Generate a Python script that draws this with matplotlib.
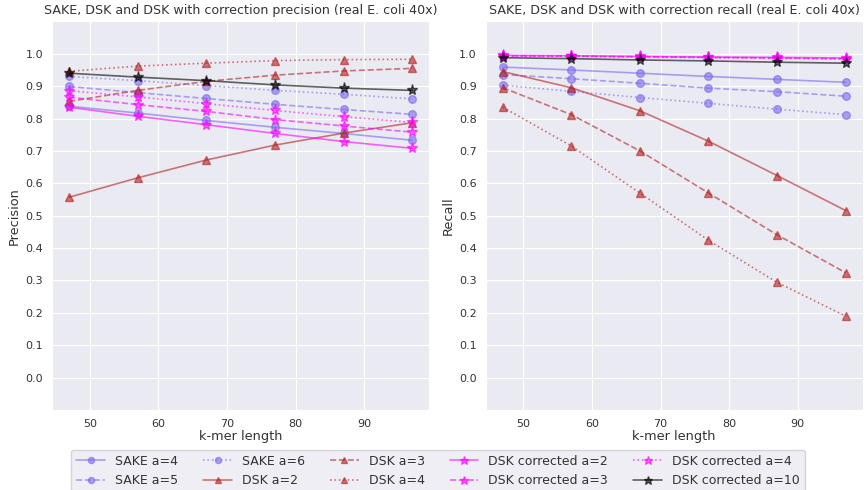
import matplotlib
matplotlib.use("Agg")
import matplotlib.pyplot as plt
import seaborn as sns

kmer = [47, 57, 67, 77, 87, 97]

# precision
sake_prec = {
    4: [0.838, 0.817, 0.794, 0.773, 0.754, 0.733],
    5: [0.899, 0.880, 0.862, 0.844, 0.828, 0.813],
    6: [0.930, 0.917, 0.902, 0.887, 0.875, 0.861],
}
dsk_prec = {
    2: [0.557, 0.617, 0.672, 0.718, 0.755, 0.787],
    3: [0.853, 0.887, 0.915, 0.934, 0.947, 0.955],
    4: [0.946, 0.962, 0.971, 0.979, 0.982, 0.983],
}
dskc_prec = {
    2: [0.835, 0.807, 0.781, 0.754, 0.729, 0.708],
    3: [0.866, 0.843, 0.822, 0.797, 0.777, 0.758],
    4: [0.886, 0.867, 0.846, 0.825, 0.806, 0.788],
    10: [0.940, 0.928, 0.917, 0.904, 0.894, 0.887],
}

# recall
sake_rec = {
    4: [0.959, 0.950, 0.940, 0.930, 0.921, 0.912],
    5: [0.936, 0.923, 0.909, 0.894, 0.883, 0.869],
    6: [0.903, 0.884, 0.865, 0.847, 0.829, 0.812],
}
dsk_rec = {
    2: [0.945, 0.895, 0.824, 0.730, 0.624, 0.516],
    3: [0.895, 0.812, 0.700, 0.570, 0.441, 0.324],
    4: [0.835, 0.715, 0.570, 0.424, 0.294, 0.190],
}
dskc_rec = {
    2: [0.995, 0.994, 0.992, 0.990, 0.989, 0.987],
    3: [0.994, 0.993, 0.991, 0.989, 0.987, 0.985],
    4: [0.993, 0.992, 0.990, 0.988, 0.986, 0.984],
    10: [0.988, 0.985, 0.981, 0.978, 0.974, 0.971],
}

styles = ["-", "--", ":"]


def draw(ax, sake, dsk, dskc):
    for (a, vals), ls in zip(sake.items(), styles):
        ax.plot(kmer, vals, ls, color="mediumslateblue", marker="o", ms=5.5,
                alpha=0.6, lw=1.2, label="SAKE a=%d" % a)
    for (a, vals), ls in zip(dsk.items(), styles):
        ax.plot(kmer, vals, ls, color="firebrick", marker="^", ms=5.5,
                alpha=0.6, lw=1.2, label="DSK a=%d" % a)
    for (a, vals), ls in zip(dskc.items(), styles + ["-"]):
        c = "black" if a == 10 else "magenta"
        ax.plot(kmer, vals, ls, color=c, marker="*", ms=8,
                alpha=0.6, lw=1.2, label="DSK corrected a=%d" % a)
    ax.set_ylim(-0.1, 1.1)
    ax.set_yticks([i / 10 for i in range(11)])
    ax.set_xticks([50, 60, 70, 80, 90])
    ax.tick_params(labelsize=8, pad=3, labelcolor="#333333")
    ax.set_xlabel("k-mer length", fontsize=9.3, labelpad=1, color="#333333")


def main():
    sns.set_style("darkgrid")
    fig = plt.figure(figsize=(8.64, 4.9), dpi=100)
    ax1 = fig.add_axes([0.0602, 0.1633, 0.4367, 0.793])
    ax2 = fig.add_axes([0.5622, 0.1633, 0.4363, 0.793])

    draw(ax1, sake_prec, dsk_prec, dskc_prec)
    ax1.set_ylabel("Precision", fontsize=9.3, labelpad=3, color="#333333")
    ax1.set_title("SAKE, DSK and DSK with correction precision (real E. coli 40x)",
                  fontsize=9.1, pad=5, color="#333333")

    draw(ax2, sake_rec, dsk_rec, dskc_rec)
    ax2.set_ylabel("Recall", fontsize=9.3, labelpad=3, color="#333333")
    ax2.set_title("SAKE, DSK and DSK with correction recall (real E. coli 40x)",
                  fontsize=9.1, pad=5, color="#333333")

    handles, labels = ax1.get_legend_handles_labels()
    fig.legend(handles, labels, loc="upper center", bbox_to_anchor=(0.507, 0.082),
               ncol=5, fontsize=9, markerscale=0.8, columnspacing=2.0,
               handlelength=2.3, borderaxespad=0, frameon=True,
               labelcolor="#333333")

    fig.savefig("out.png", dpi=100)


if __name__ == "__main__":
    main()
